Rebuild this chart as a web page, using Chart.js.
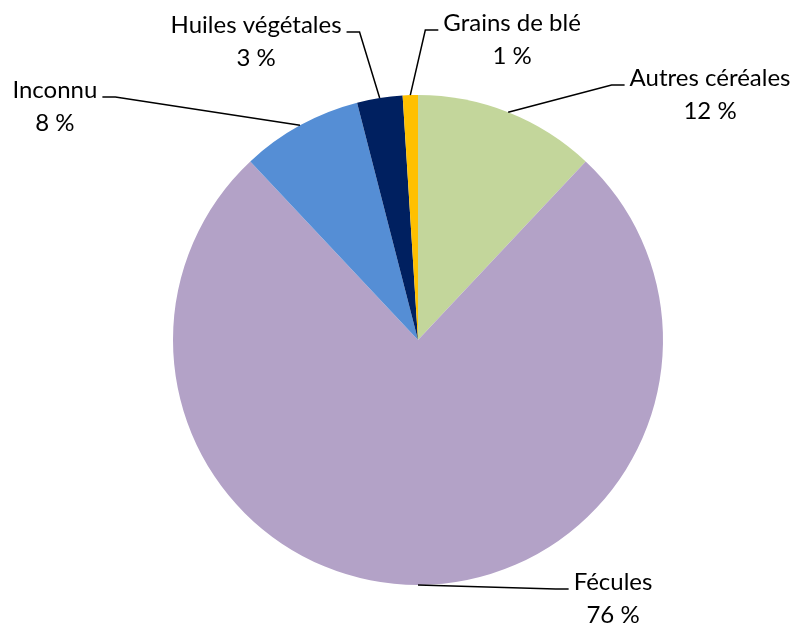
<!DOCTYPE html>
<html><head><meta charset="utf-8">
<script src="https://cdn.jsdelivr.net/npm/chart.js@4.4.0/dist/chart.umd.min.js"></script>
<style>html,body{margin:0;padding:0;background:#fff}#wrap{width:801px;height:626px}</style>
</head><body><div id="wrap"><canvas id="c" width="801" height="626"></canvas></div>
<script>
const categories = ['Autres céréales', 'Fécules', 'Inconnu', 'Huiles végétales', 'Grains de blé'];
const values = [12, 76, 8, 3, 1];
const colors = ['#C3D69B', '#B3A2C7', '#558ED5', '#002060', '#FFC000'];
// label placement relative to pie centre, in radius units: [text centre x, first-line baseline y]
const labelOffsets = [[1.192, -1.037], [0.796, 1.02], [-1.482, -0.988], [-0.661, -1.253], [0.384, -1.261]];

const leaderPlugin = {
  id: 'leaders',
  afterDatasetsDraw(chart) {
    const ctx = chart.ctx;
    const meta = chart.getDatasetMeta(0);
    ctx.save();
    ctx.font = '24px Lato';
    meta.data.forEach((arc, i) => {
      const p = arc.getProps(['x', 'y', 'startAngle', 'endAngle', 'outerRadius'], true);
      const mid = (p.startAngle + p.endAngle) / 2;
      const px = p.x + Math.cos(mid) * p.outerRadius;
      const py = p.y + Math.sin(mid) * p.outerRadius;
      const tx = p.x + labelOffsets[i][0] * p.outerRadius;
      const by = p.y + labelOffsets[i][1] * p.outerRadius;
      const name = categories[i], pct = values[i] + ' %';
      const w = ctx.measureText(name).width;
      const onRight = tx > px;
      const ly = by - 1;
      const ex = onRight ? tx - w / 2 - 5 : tx + w / 2 + 5;
      const elx = onRight ? ex - 13 : ex + 13;
      ctx.beginPath();
      ctx.moveTo(px, py); ctx.lineTo(elx, ly); ctx.lineTo(ex, ly);
      ctx.strokeStyle = '#000'; ctx.lineWidth = 1.5; ctx.stroke();
      ctx.fillStyle = '#000'; ctx.textAlign = 'center'; ctx.textBaseline = 'alphabetic';
      ctx.fillText(name, tx, by);
      ctx.fillText(pct, tx, by + 33);
    });
    ctx.restore();
  }
};

new Chart(document.getElementById('c'), {
  type: 'pie',
  data: { labels: categories, datasets: [{ data: values, backgroundColor: colors, borderWidth: 0 }] },
  options: {
    responsive: false, animation: false,
    layout: { padding: { left: 173, right: 138, top: 95, bottom: 41 } },
    plugins: { legend: { display: false }, tooltip: { enabled: false } }
  },
  plugins: [leaderPlugin]
});
</script></body></html>
